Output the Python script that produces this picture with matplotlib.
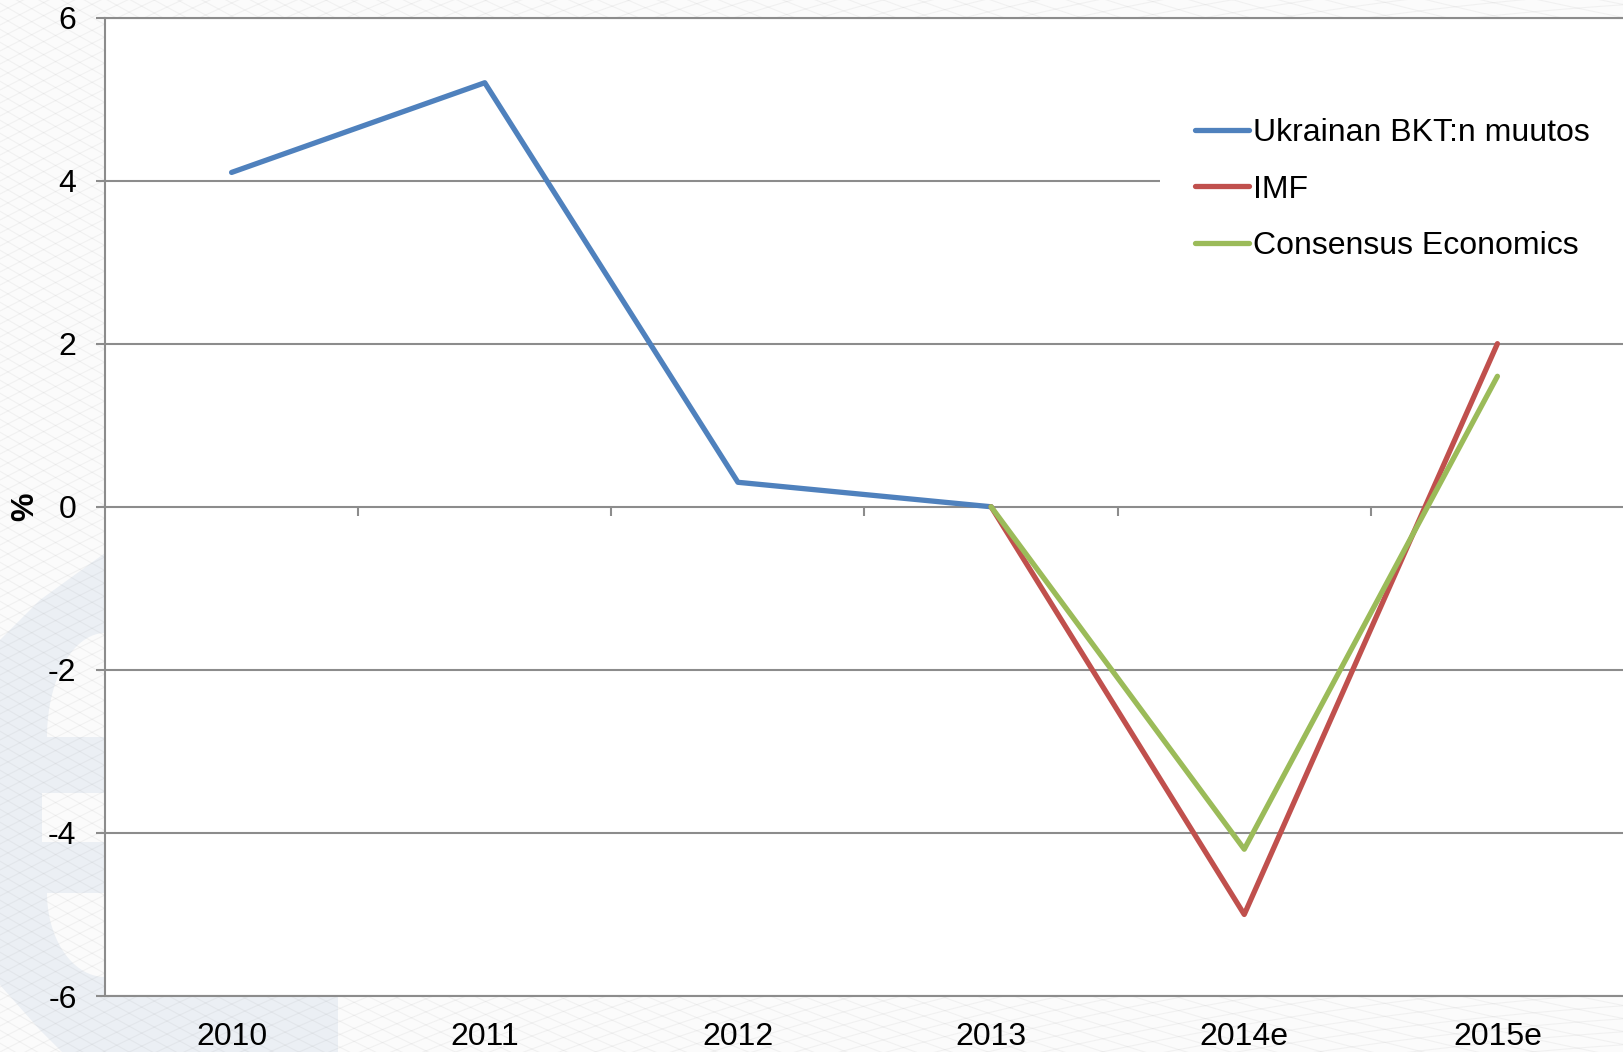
import numpy as np
import matplotlib
matplotlib.use("Agg")
import matplotlib.pyplot as plt
from matplotlib.patches import Polygon
from matplotlib.collections import LineCollection

plt.rcParams['font.family'] = ['Liberation Sans', 'DejaVu Sans']

# ---- data -------------------------------------------------------------
categories = ["2010", "2011", "2012", "2013", "2014e", "2015e"]
gdp_change = [4.1, 5.2, 0.3, 0.0]          # 2010-2013
imf_forecast = [0.0, -5.0, 2.0]             # 2013-2015e
consensus_forecast = [0.0, -4.2, 1.6]       # 2013-2015e
y_ticks = [-6, -4, -2, 0, 2, 4, 6]
y_tick_labels = ["-6", "-4", "-2", "0", "2", "4", "6"]
series_names = ["Ukrainan BKT:n muutos", "IMF", "Consensus Economics"]

BLUE = "#4F81BD"
RED = "#C0504D"
GREEN = "#9BBB59"
GRID = "#8c8c8c"
FS = 23

W, H = 1624, 1052
fig = plt.figure(figsize=(W / 100, H / 100), dpi=100)
fig.patch.set_facecolor("#fbfbfb")

# ---- decorative background (pale euro sign + guilloche mesh) ---------
bg = fig.add_axes([0, 0, 1, 1])
bg.set_xlim(0, W)
bg.set_ylim(H, 0)
bg.axis("off")
bg.set_zorder(0)

pale = "#ebeff4"
base = "#fbfbfb"

outer = [(330, 420), (160, 500), (105, 553), (40, 600), (0, 640), (-15, 800),
         (-10, 960), (0, 985), (40, 1030), (70, 1060), (338, 1060), (338, 900),
         (330, 420)]
bg.add_patch(Polygon(outer, closed=True, facecolor=pale, edgecolor="none"))

# inner cut-outs of the sign
t = np.linspace(0, 1, 30)
hole_top = [(105 - 58 * np.sin(s * np.pi / 2), 633 + 104 * (1 - np.cos(s * np.pi / 2)))
            for s in t]
hole_top = hole_top + [(300, 737), (300, 633)]
bg.add_patch(Polygon(hole_top, closed=True, facecolor=base, edgecolor="none"))
bg.add_patch(Polygon([(42, 793), (300, 793), (300, 842), (42, 842)], closed=True,
                     facecolor=base, edgecolor="none"))
hole_bot = [(47 + 58 * (1 - np.cos(s * np.pi / 2)), 893 + 84 * np.sin(s * np.pi / 2))
            for s in t]
hole_bot = hole_bot + [(300, 990), (300, 893)]
bg.add_patch(Polygon(hole_bot, closed=True, facecolor=base, edgecolor="none"))

xs = np.linspace(-50, W + 50, 300)
segs = []
for c in np.arange(-900, 1900, 13):
    segs.append(np.column_stack([xs, c + 0.42 * xs - 0.00012 * (xs - 700) ** 2]))
    segs.append(np.column_stack([xs, c - 0.38 * xs + 0.00014 * (xs - 500) ** 2 + 500]))
bg.add_collection(LineCollection(segs, colors=(0.55, 0.55, 0.55, 0.09), linewidths=0.8))

# ---- main chart -------------------------------------------------------
ax = fig.add_axes([105 / W, 56 / H, 1519 / W, 978.5 / H])
ax.set_zorder(1)
ax.set_facecolor("white")

x_all = np.arange(len(categories))
x_hist = x_all[:len(gdp_change)]
x_fc = x_all[len(gdp_change) - 1:]

line_kw = dict(lw=3.8, solid_capstyle="round", solid_joinstyle="round", zorder=3)
ax.plot(x_hist, gdp_change, color=BLUE, label=series_names[0], **line_kw)
ax.plot(x_fc, imf_forecast, color=RED, label=series_names[1], **line_kw)
ax.plot(x_fc, consensus_forecast, color=GREEN, label=series_names[2], **line_kw)

ax.set_xlim(-0.5, len(categories) - 0.5)
ax.set_ylim(-6, 6)

ax.set_yticks(y_ticks)
ax.set_yticklabels(y_tick_labels)
ax.yaxis.grid(True, color=GRID, lw=1.5)
ax.set_axisbelow(True)
ax.tick_params(axis="y", direction="out", length=6.5, width=1.5, color=GRID,
               pad=14, labelsize=FS)

ax.set_xticks(x_all)
ax.set_xticklabels(categories)
ax.tick_params(axis="x", length=0, pad=19, labelsize=FS)

for side in ("left", "top", "bottom"):
    ax.spines[side].set_color(GRID)
    ax.spines[side].set_linewidth(1.5)
ax.spines["right"].set_visible(False)

# category separators on the zero line
sec = ax.secondary_xaxis(0.5)
sec.set_xticks(x_all[:-1] + 0.5)
sec.set_xticklabels([""] * (len(categories) - 1))
sec.tick_params(axis="x", direction="out", length=6.5, width=1.5, color=GRID,
                bottom=True, top=False, labelbottom=False, labeltop=False)
for sp in sec.spines.values():
    sp.set_visible(False)

ax.set_ylabel("%", fontsize=FS, fontweight="bold")
ax.yaxis.set_label_coords(-(105 - 40) / 1519, 0.5)

leg_top = 1 - 83 / H
leg = ax.legend(loc="upper left",
                bbox_to_anchor=(1160 / W, leg_top - 0.3, (W - 1160) / W + 0.02, 0.3),
                bbox_transform=fig.transFigure, mode="expand", frameon=True,
                facecolor="white", edgecolor="none", framealpha=1, fancybox=False,
                fontsize=FS, handlelength=1.7, handletextpad=0.12, labelspacing=0.83,
                borderpad=1.1, borderaxespad=0)
leg.set_zorder(5)

fig.savefig("out.png", dpi=100, facecolor=fig.get_facecolor())
